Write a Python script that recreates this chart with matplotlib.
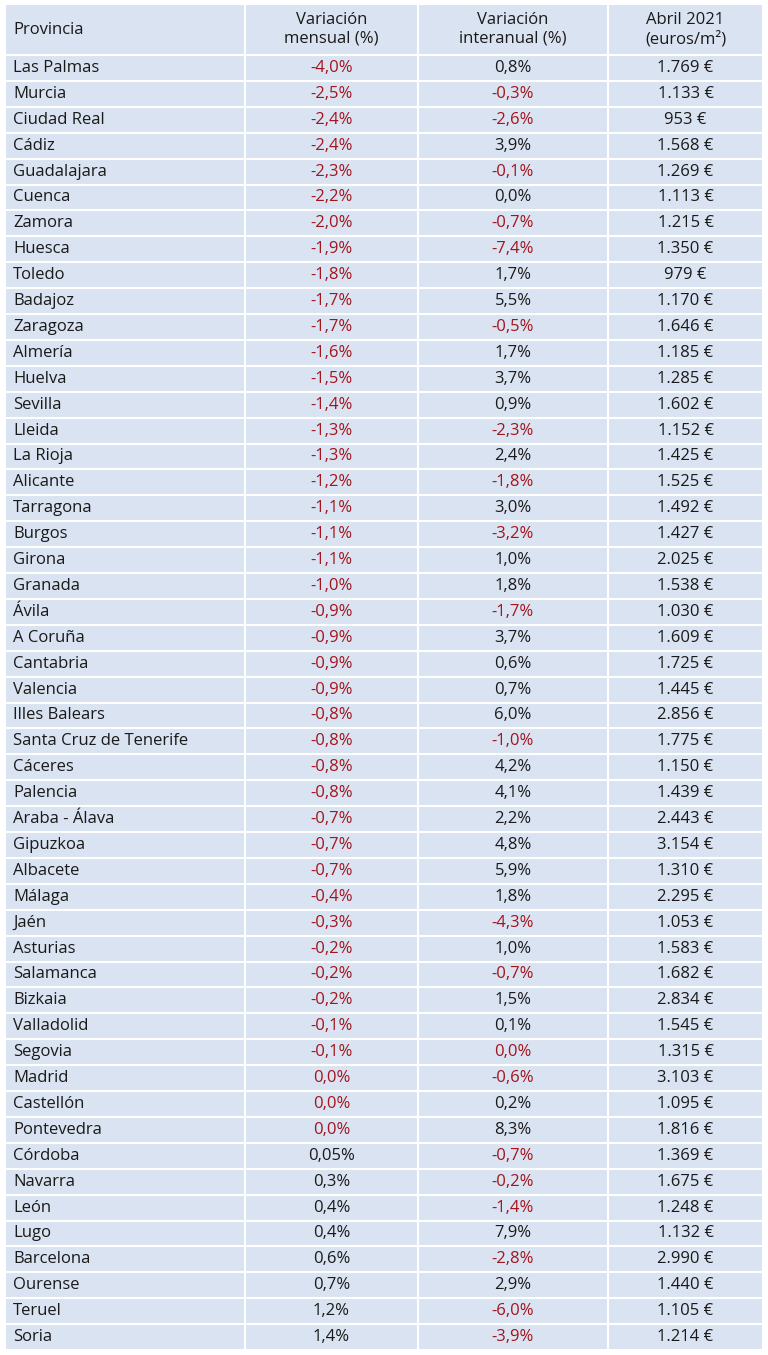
import numpy as np
import matplotlib
matplotlib.use("Agg")
import matplotlib.pyplot as plt
from matplotlib.patches import Rectangle

provincias = ["Las Palmas","Murcia","Ciudad Real","Cádiz","Guadalajara","Cuenca","Zamora","Huesca","Toledo","Badajoz",
 "Zaragoza","Almería","Huelva","Sevilla","Lleida","La Rioja","Alicante","Tarragona","Burgos","Girona",
 "Granada","Ávila","A Coruña","Cantabria","Valencia","Illes Balears","Santa Cruz de Tenerife","Cáceres","Palencia","Araba - Álava",
 "Gipuzkoa","Albacete","Málaga","Jaén","Asturias","Salamanca","Bizkaia","Valladolid","Segovia","Madrid",
 "Castellón","Pontevedra","Córdoba","Navarra","León","Lugo","Barcelona","Ourense","Teruel","Soria"]
mensual = [-4.0,-2.5,-2.4,-2.4,-2.3,-2.2,-2.0,-1.9,-1.8,-1.7,
 -1.7,-1.6,-1.5,-1.4,-1.3,-1.3,-1.2,-1.1,-1.1,-1.1,
 -1.0,-0.9,-0.9,-0.9,-0.9,-0.8,-0.8,-0.8,-0.8,-0.7,
 -0.7,-0.7,-0.4,-0.3,-0.2,-0.2,-0.2,-0.1,-0.1,-0.0,
 -0.0,-0.0,0.05,0.3,0.4,0.4,0.6,0.7,1.2,1.4]
interanual = [0.8,-0.3,-2.6,3.9,-0.1,0.0,-0.7,-7.4,1.7,5.5,
 -0.5,1.7,3.7,0.9,-2.3,2.4,-1.8,3.0,-3.2,1.0,
 1.8,-1.7,3.7,0.6,0.7,6.0,-1.0,4.2,4.1,2.2,
 4.8,5.9,1.8,-4.3,1.0,-0.7,1.5,0.1,-0.0,-0.6,
 0.2,8.3,-0.7,-0.2,-1.4,7.9,-2.8,2.9,-6.0,-3.9]
precio = [1769,1133,953,1568,1269,1113,1215,1350,979,1170,
 1646,1185,1285,1602,1152,1425,1525,1492,1427,2025,
 1538,1030,1609,1725,1445,2856,1775,1150,1439,2443,
 3154,1310,2295,1053,1583,1682,2834,1545,1315,3103,
 1095,1816,1369,1675,1248,1132,2990,1440,1105,1214]
headers = ["Provincia","Variación\nmensual (%)","Variación\ninteranual (%)","Abril 2021\n(euros/m²)"]

def fmt_pct(v):
    if round(v, 1) != round(v, 2):
        s = f"{abs(v):.2f}" if v == 0 else f"{v:.2f}"
    else:
        s = f"{abs(v):.1f}" if v == 0 else f"{v:.1f}"
    return s.replace(".", ",") + "%"

def fmt_eur(v):
    return f"{v:,}".replace(",", ".") + " €"

RED = "#a3141c"
BLACK = "#1a1a1a"
BG = "#dae3f1"

W, H = 768, 1355
fig = plt.figure(figsize=(W/100, H/100), dpi=100)
ax = fig.add_axes([0, 0, 1, 1])
ax.set_xlim(0, W); ax.set_ylim(H, 0); ax.axis("off")
plt.rcParams["font.family"] = "Open Sans"

xs = [5, 245, 418, 608, 763]
top, head_h = 4, 51
n = len(provincias)
row_h = (1350 - top - head_h) / n

ax.add_patch(Rectangle((xs[0], top), xs[-1]-xs[0], 1350-top, facecolor=BG, edgecolor="none"))
for x in xs:
    ax.plot([x, x], [top, 1350], color="white", lw=1.5)
ys = [top, top+head_h] + [top+head_h+(i+1)*row_h for i in range(n)]
for y in ys:
    ax.plot([xs[0], xs[-1]], [y, y], color="white", lw=1.5)

fs = 12
cy = top + head_h/2
ax.text(xs[0]+8, cy, headers[0], ha="left", va="center", fontsize=fs, color=BLACK)
for j in range(1, 4):
    ax.text((xs[j]+xs[j+1])/2, cy, headers[j], ha="center", va="center", fontsize=fs, color=BLACK, linespacing=1.2)

for i in range(n):
    y = top + head_h + (i+0.5)*row_h
    ax.text(xs[0]+8, y, provincias[i], ha="left", va="center", fontsize=fs, color=BLACK)
    for j, v in ((1, mensual[i]), (2, interanual[i])):
        c = RED if np.signbit(v) else BLACK
        ax.text((xs[j]+xs[j+1])/2, y, fmt_pct(v), ha="center", va="center", fontsize=fs, color=c)
    ax.text((xs[3]+xs[4])/2, y, fmt_eur(precio[i]), ha="center", va="center", fontsize=fs, color=BLACK)

fig.savefig("out.png", dpi=100, facecolor="white")
